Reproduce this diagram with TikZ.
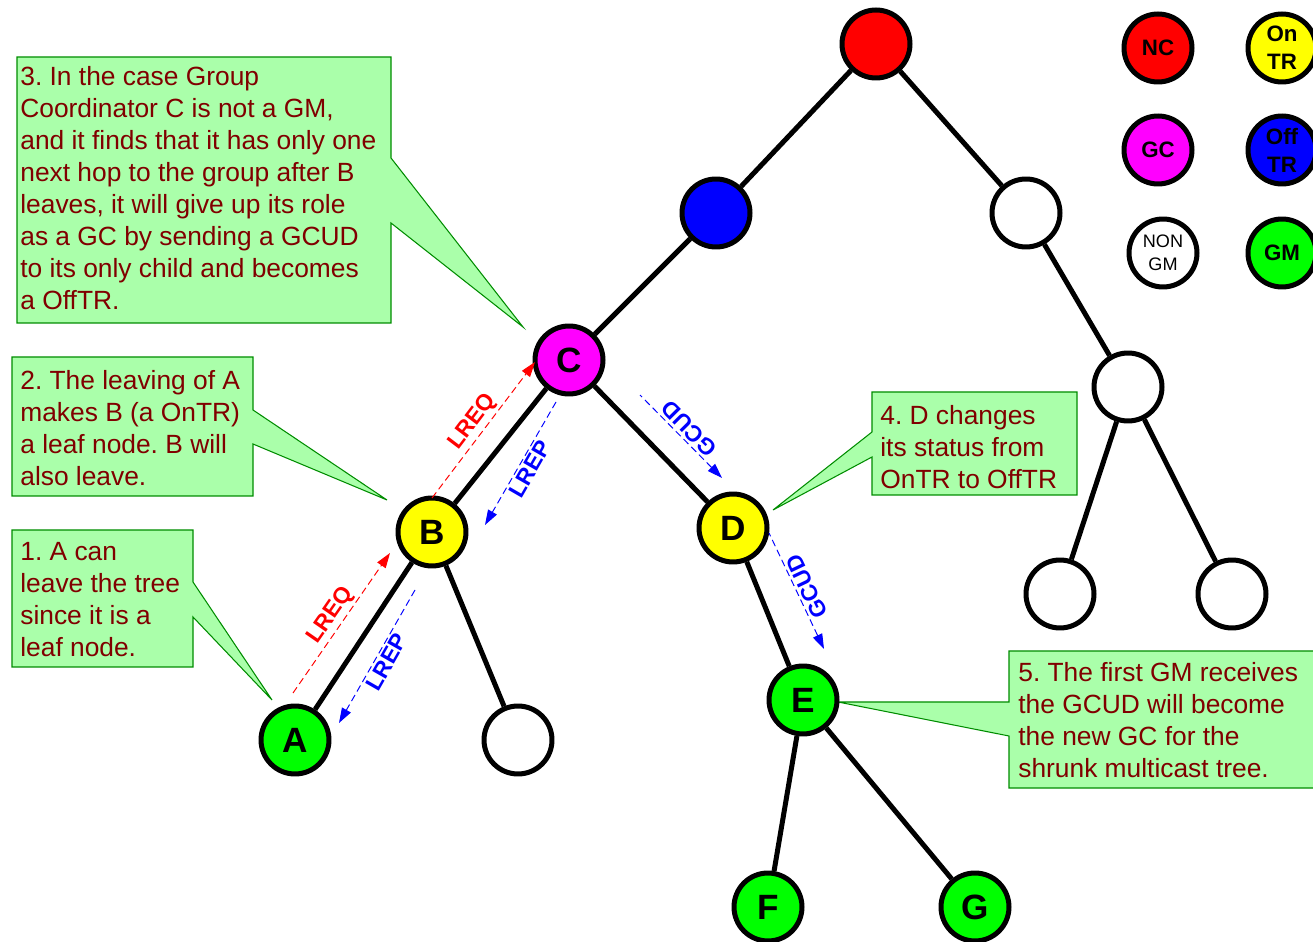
\documentclass[tikz,border=0pt]{standalone}
\usepackage{fontspec}
\setmainfont{Liberation Sans}
\frenchspacing
\usetikzlibrary{arrows.meta}
\definecolor{notefill}{RGB}{170,255,170}
\definecolor{noteline}{RGB}{0,140,0}
\definecolor{notetext}{RGB}{128,0,0}
\definecolor{ncred}{RGB}{255,0,0}
\definecolor{offblue}{RGB}{0,0,255}
\definecolor{onyellow}{RGB}{255,255,0}
\definecolor{gcmagenta}{RGB}{255,0,255}
\definecolor{gmgreen}{RGB}{0,255,0}
\tikzset{
  >={Triangle[length=3mm,width=2mm]},
  vertex/.style={circle,draw=black,line width=1mm,fill=#1,minimum size=13.6mm,inner sep=0pt,
    font=\fontsize{20}{20}\selectfont\bfseries},
  vertex/.default=white,
  legendkey/.style={vertex=#1,font=\fontsize{12.7}{15.9}\selectfont\bfseries,align=center},
  link/.style={line width=1mm},
  msg/.style={#1,line width=0.55pt,dash pattern=on 1.4mm off 0.8mm},
  msglabel/.style={font=\fontsize{13}{13}\selectfont\bfseries,inner sep=1.5pt,sloped,midway},
  balloon/.style={fill=notefill,draw=noteline,line width=0.6pt},
  note/.style={anchor=north west,inner sep=0pt,align=left,text=notetext,
    font=\fontsize{15}{18.2}\selectfont},
}
\begin{document}
\begin{tikzpicture}[x=0.02cm,y=-0.02cm]
  \useasboundingbox (0,0) rectangle (1313,942);
  \clip (0,0) rectangle (1313,942);

  % callout balloons
  \draw[balloon] (12,530) -- (193,530) -- (193,582) -- (272,700) -- (193,617) -- (193,667) -- (12,667) -- cycle;
  \draw[balloon] (12,357) -- (253,357) -- (253,410) -- (387,500) -- (253,444) -- (253,496) -- (12,496) -- cycle;
  \draw[balloon] (17,57) -- (391,57) -- (391,158) -- (523,327) -- (391,223) -- (391,323) -- (17,323) -- cycle;
  \draw[balloon] (872,392) -- (1077,392) -- (1077,495) -- (872,495) -- (872,457) -- (773,510) -- (872,432) -- cycle;
  \draw[balloon] (1009,651) -- (1320,651) -- (1320,788) -- (1009,788) -- (1009,736) -- (838,702) -- (1009,702) -- cycle;

  \node[note] (t1) at (20,542) {1. A can\\leave the tree\\since it is a\\leaf node.};
  \node[note] (t2) at (20,370) {2. The leaving of A\\makes B (a OnTR)\\a leaf node. B will\\also leave.};
  \node[note] (t3) at (20,66) {3. In the case Group\\Coordinator C is not a GM,\\and it finds that it has only one\\next hop to the group after B\\leaves, it will give up its role\\as a GC by sending a GCUD\\to its only child and becomes\\a OffTR.};
  \node[note] (t4) at (880,405) {4. D changes\\its status from\\OnTR to OffTR};
  \node[note] (t5) at (1018,662) {5. The first GM receives\\the GCUD will become\\the new GC for the\\shrunk multicast tree.};

  % tree
  \node[vertex=ncred] (nc) at (876,44) {};
  \node[vertex=offblue] (off) at (716,213) {};
  \node[vertex] (r1) at (1026,213) {};
  \node[vertex=gcmagenta] (C) at (569,360) {C};
  \node[vertex] (r2) at (1128,387) {};
  \node[vertex=onyellow] (B) at (432,532) {B};
  \node[vertex=onyellow] (D) at (733,528) {D};
  \node[vertex=gmgreen] (A) at (295,740) {A};
  \node[vertex] (b2) at (518,740) {};
  \node[vertex=gmgreen] (E) at (803,700) {E};
  \node[vertex=gmgreen] (F) at (768,907) {F};
  \node[vertex=gmgreen] (G) at (975,907) {G};
  \node[vertex] (r3) at (1060,594) {};
  \node[vertex] (r4) at (1232,594) {};
  \foreach \a/\b in {nc/off,nc/r1,off/C,r1/r2,C/B,C/D,B/A,B/b2,D/E,E/F,E/G,r2/r3,r2/r4}
    \draw[link] (\a) -- (\b);

  % messages
  \coordinate (q1s) at (293,693); \coordinate (q1e) at (390,553);
  \coordinate (q2s) at (432,498); \coordinate (q2e) at (535,362);
  \coordinate (p1s) at (556,402); \coordinate (p1e) at (485,525);
  \coordinate (p2s) at (415,590); \coordinate (p2e) at (339,723);
  \coordinate (g1s) at (640,395); \coordinate (g1e) at (722,478);
  \coordinate (g2s) at (769,533); \coordinate (g2e) at (824,649);
  \draw[msg=ncred,->] (q1s) -- node[msglabel,above] {LREQ} (q1e);
  \draw[msg=ncred,->] (q2s) -- node[msglabel,above] {LREQ} (q2e);
  \draw[msg=offblue,->] (p1s) -- node[msglabel,below] {LREP} (p1e);
  \draw[msg=offblue,->] (p2s) -- node[msglabel,below] {LREP} (p2e);
  \draw[msg=offblue,<-] (g1e) -- node[msglabel,allow upside down,below] {GCUD} (g1s);
  \draw[msg=offblue,<-] (g2e) -- node[msglabel,allow upside down,below] {GCUD} (g2s);

  % legend
  \node[legendkey=ncred] (kNC) at (1158,48) {NC};
  \node[legendkey=onyellow] (kOn) at (1282,48) {On\\TR};
  \node[legendkey=gcmagenta] (kGC) at (1158,150) {GC};
  \node[legendkey=offblue] (kOff) at (1282,150) {Off\\TR};
  \node[vertex,font=\fontsize{10.3}{13}\selectfont,align=center] (kNon) at (1163,253) {NON\\GM};
  \node[legendkey=gmgreen] (kGM) at (1282,253) {GM};
\end{tikzpicture}
\end{document}
